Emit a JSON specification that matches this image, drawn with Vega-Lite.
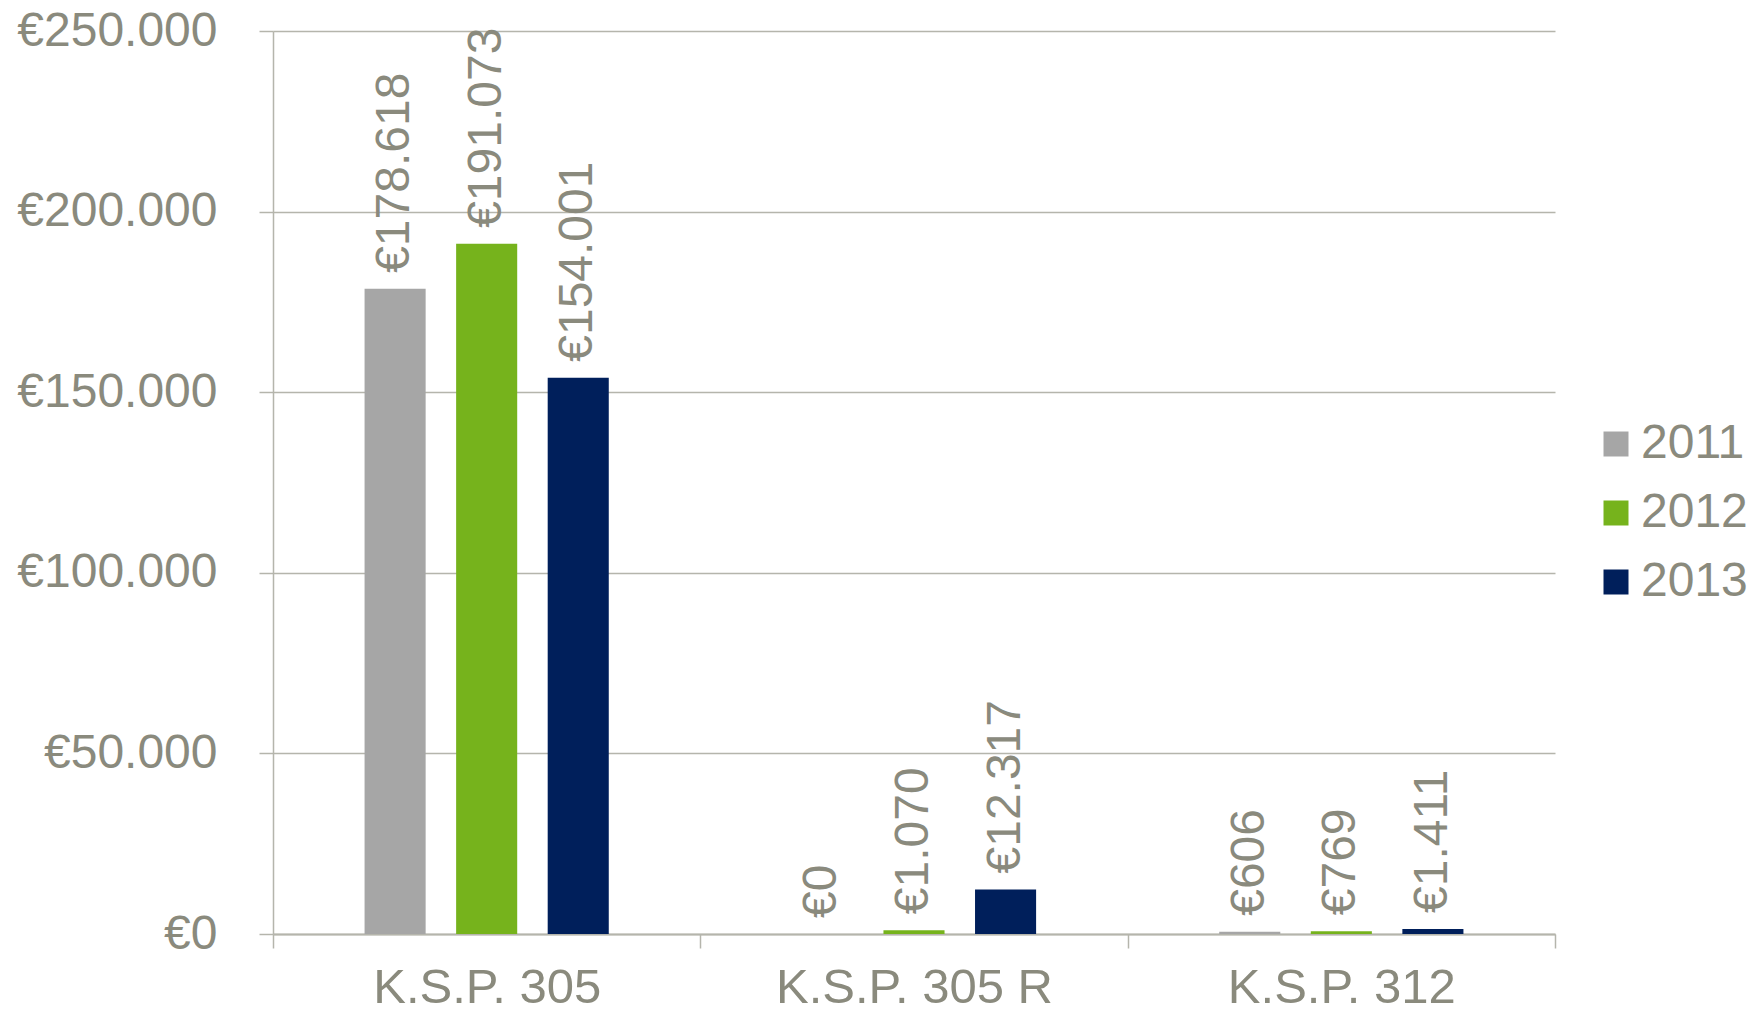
{
  "$schema": "https://vega.github.io/schema/vega-lite/v6.json",
  "autosize": "none",
  "width": 1282,
  "height": 903,
  "padding": {"left": 273, "top": 31, "right": 193, "bottom": 79},
  "background": "white",
  "config": {
    "view": {"stroke": null},
    "font": "Liberation Sans",
    "locale": {"number": {"decimal": ",", "thousands": ".", "grouping": [3], "currency": ["€", ""]}}
  },
  "data": {
    "values": [
      {"cat": "K.S.P. 305", "year": "2011", "value": 178618},
      {"cat": "K.S.P. 305", "year": "2012", "value": 191073},
      {"cat": "K.S.P. 305", "year": "2013", "value": 154001},
      {"cat": "K.S.P. 305 R", "year": "2011", "value": 0},
      {"cat": "K.S.P. 305 R", "year": "2012", "value": 1070},
      {"cat": "K.S.P. 305 R", "year": "2013", "value": 12317},
      {"cat": "K.S.P. 312", "year": "2011", "value": 606},
      {"cat": "K.S.P. 312", "year": "2012", "value": 769},
      {"cat": "K.S.P. 312", "year": "2013", "value": 1411}
    ]
  },
  "encoding": {
    "x": {
      "field": "cat", "type": "nominal", "sort": null,
      "scale": {"paddingInner": 0, "paddingOuter": 0},
      "axis": {
        "title": null, "labelAngle": 0, "labelFontSize": 49, "labelColor": "#8A8A7D", "labelLimit": 0,
        "labelPadding": 15, "tickBand": "extent", "tickSize": 14, "tickColor": "#B5B5AC", "tickWidth": 1.5,
        "domainColor": "#B5B5AC", "domainWidth": 2, "grid": false
      }
    },
    "xOffset": {
      "field": "year", "type": "nominal",
      "scale": {"paddingInner": 0.333, "paddingOuter": 1.04}
    },
    "y": {
      "field": "value", "type": "quantitative",
      "scale": {"domain": [0, 250000], "nice": false},
      "axis": {
        "title": null, "values": [0, 50000, 100000, 150000, 200000, 250000], "format": "$,.0f",
        "labelFontSize": 48, "labelColor": "#8A8A7D", "labelPadding": 42, "labelLimit": 0,
        "tickSize": 14, "tickColor": "#B5B5AC", "tickWidth": 1.5,
        "domainColor": "#B5B5AC", "domainWidth": 1.5,
        "grid": true, "gridColor": "#B5B5AC", "gridWidth": 1.5
      }
    }
  },
  "layer": [
    {
      "mark": {"type": "bar"},
      "encoding": {
        "color": {
          "field": "year", "type": "nominal",
          "scale": {"domain": ["2011", "2012", "2013"], "range": ["#A6A6A6", "#76B31C", "#001F5B"]},
          "legend": {
            "title": null, "orient": "none", "legendX": 1319, "legendY": 389,
            "symbolType": "square", "symbolSize": 625, "symbolStrokeWidth": 0,
            "labelFontSize": 48, "labelColor": "#8A8A7D", "labelOffset": 1, "labelLimit": 0,
            "rowPadding": 21
          }
        }
      }
    },
    {
      "mark": {"type": "text", "angle": 270, "align": "left", "baseline": "middle", "dx": 16, "fontSize": 48, "color": "#8A8A7D"},
      "encoding": {
        "text": {"field": "value", "type": "quantitative", "format": "$,.0f"}
      }
    }
  ]
}
